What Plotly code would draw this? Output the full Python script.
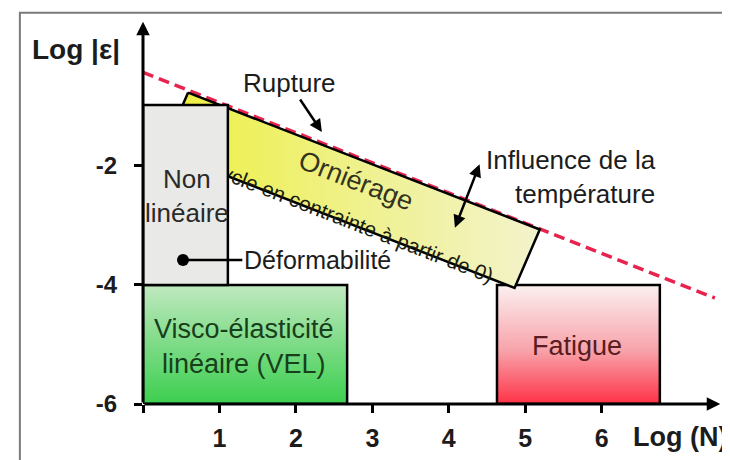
import plotly.graph_objects as go

# axes
x_ticks = [0, 1, 2, 3, 4, 5, 6]
x_ticktext = ["", "1", "2", "3", "4", "5", "6"]
y_ticks = [-6, -4, -2]
y_ticktext = ["-6", "-4", "-2"]

# domains in (Log N, Log |eps|)
vel_x = [0, 2.67, 2.67, 0, 0]
vel_y = [-6, -6, -4, -4, -6]
fat_x = [4.63, 6.76, 6.76, 4.63, 4.63]
fat_y = [-6, -6, -4, -4, -6]
nonlin_x = [0, 1.11]
nonlin_y = [-4, -0.98]
orn_x = [0.59, 5.19, 4.86, 0.26, 0.59]
orn_y = [-0.77, -3.07, -4.05, -1.75, -0.77]
rupt_x = [0, 7.48]
rupt_y = [-0.43, -4.22]

FONT = "Liberation Sans, Arial, sans-serif"
INK = "#1c1c1c"

fig = go.Figure()

# rupture limit
fig.add_trace(go.Scatter(x=rupt_x, y=rupt_y, mode="lines",
                         line=dict(color="#e8244e", width=3.5, dash="11px,6px"),
                         hoverinfo="skip"))

fig.add_trace(go.Scatter(x=fat_x, y=fat_y, mode="lines", fill="toself",
                         line=dict(color="black", width=2.5),
                         fillgradient=dict(type="vertical",
                                           colorscale=[[0, "#ff3246"], [0.45, "#f7a3aa"], [1, "#fbf0f0"]]),
                         hoverinfo="skip"))
fig.add_trace(go.Scatter(x=vel_x, y=vel_y, mode="lines", fill="toself",
                         line=dict(color="black", width=2.5),
                         fillgradient=dict(type="vertical",
                                           colorscale=[[0, "#3ccf4f"], [0.5, "#7ddb86"], [1, "#c0e9c0"]]),
                         hoverinfo="skip"))
fig.add_trace(go.Scatter(x=orn_x, y=orn_y, mode="lines", fill="toself",
                         line=dict(color="black", width=2.5),
                         fillgradient=dict(type="horizontal",
                                           colorscale=[[0, "#eef03c"], [0.5, "#eff18a"], [1, "#f3f3cc"]]),
                         hoverinfo="skip"))

# rotated texts inside the rutting band (drawn as shape labels so the box can hide them)
fig.add_shape(type="line", x0=0.50, y0=-1.054, x1=5.10, y1=-3.354, layer="above",
              line=dict(color="rgba(0,0,0,0)", width=1),
              label=dict(text="Orniérage", textposition="middle", yanchor="middle",
                         font=dict(family=FONT, size=27, color="#34341c")))
fig.add_shape(type="line", x0=0.41, y0=-1.74, x1=5.01, y1=-4.04, layer="above",
              line=dict(color="rgba(0,0,0,0)", width=1),
              label=dict(text="(cycle en contrainte à partir de 0)", textposition="middle",
                         yanchor="middle", font=dict(family=FONT, size=21, color="#1c1c10")))

# non linear box
fig.add_shape(type="rect", x0=nonlin_x[0], x1=nonlin_x[1], y0=nonlin_y[0], y1=nonlin_y[1],
              layer="above", fillcolor="#e9e9e7", line=dict(color="black", width=2.5))

# outer frame
fig.add_shape(type="rect", xref="paper", yref="paper", x0=-0.213, x1=1.1, y0=-0.3, y1=1.003,
              layer="below", line=dict(color="#7a7a7a", width=2))

# axes arrows
fig.add_annotation(x=7.55, y=-6, ax=0, ay=-6, xref="x", yref="y", axref="x", ayref="y",
                   text="", showarrow=True, arrowhead=2, arrowsize=0.9, arrowwidth=3, arrowcolor="black")
fig.add_annotation(x=0, y=0.42, ax=0, ay=-6, xref="x", yref="y", axref="x", ayref="y",
                   text="", showarrow=True, arrowhead=2, arrowsize=0.9, arrowwidth=3, arrowcolor="black")

# labels
fig.add_annotation(x=-0.116, y=0.908, xref="paper", yref="paper", xanchor="center", yanchor="middle",
                   text="<b>Log |ε|</b>", showarrow=False, font=dict(family=FONT, size=28, color=INK))
fig.add_annotation(x=0.929, y=-0.0846, xref="paper", yref="paper", xanchor="center", yanchor="middle",
                   text="<b>Log (N)</b>", showarrow=False, font=dict(family=FONT, size=27, color=INK))
fig.add_annotation(x=0.575, y=-2.5, text="Non<br>linéaire", showarrow=False,
                   font=dict(family=FONT, size=26, color="#2a2a2a"))
fig.add_annotation(x=1.32, y=-5.03, text="Visco-élasticité<br>linéaire (VEL)", showarrow=False,
                   font=dict(family=FONT, size=27, color="#173f1b"))
fig.add_annotation(x=5.68, y=-5.02, text="Fatigue", showarrow=False,
                   font=dict(family=FONT, size=27, color="#5a1c20"))
fig.add_annotation(x=2.34, y=-1.43, ax=1.91, ay=-0.609, axref="x", ayref="y",
                   text="Rupture", showarrow=True, arrowhead=2, arrowsize=1, arrowwidth=2.5,
                   arrowcolor="black", font=dict(family=FONT, size=26, color=INK))
fig.add_annotation(x=5.60, y=-2.19, text="Influence de la<br>température", showarrow=False,
                   align="right", font=dict(family=FONT, size=26, color=INK))
fig.add_annotation(x=4.08, y=-3.04, ax=4.41, ay=-1.95, axref="x", ayref="y", text="",
                   showarrow=True, arrowhead=2, arrowside="end+start", arrowsize=1,
                   arrowwidth=2.5, arrowcolor="black")
fig.add_annotation(x=0.523, y=-3.58, ax=2.28, ay=-3.58, axref="x", ayref="y",
                   text="Déformabilité", showarrow=True, arrowhead=6, arrowsize=1.2,
                   arrowwidth=2.5, arrowcolor="black", font=dict(family=FONT, size=25, color=INK))

fig.update_xaxes(range=[0, 7.56], showgrid=False, zeroline=False, showline=False,
                 tickvals=x_ticks, ticktext=x_ticktext, ticks="outside", ticklen=8, tickwidth=2.5,
                 tickcolor="black", ticklabelstandoff=4,
                 tickfont=dict(family=FONT, size=25, color=INK, weight="bold"))
fig.update_yaxes(range=[-6, 0.55], showgrid=False, zeroline=False, showline=False,
                 tickvals=y_ticks, ticktext=y_ticktext, ticks="outside", ticklen=8, tickwidth=2.5,
                 tickcolor="black", ticklabelstandoff=12,
                 tickfont=dict(family=FONT, size=24, color=INK, weight="bold"))
# page body adds an 8px margin, so the figure is 8px smaller than the window
fig.update_layout(width=722, height=452, margin=dict(l=135, r=9, t=6, b=56),
                  paper_bgcolor="white", plot_bgcolor="white", showlegend=False)

fig.write_html("out.html")
